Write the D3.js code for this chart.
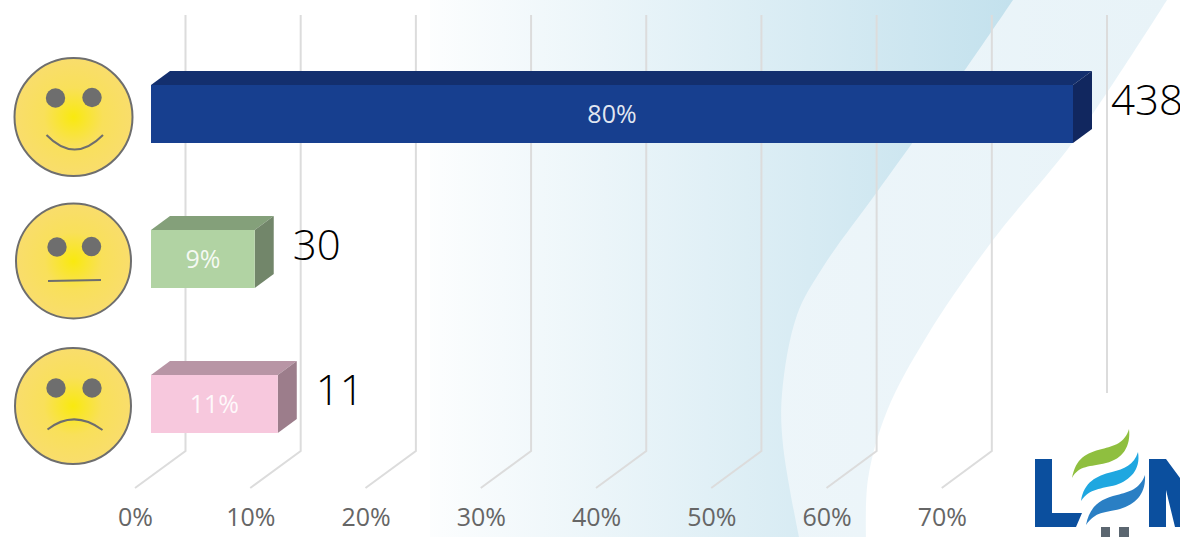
<!DOCTYPE html>
<html>
<head>
<meta charset="utf-8">
<script src="https://cdn.jsdelivr.net/npm/d3@7"></script>
<style>
  html, body { margin: 0; padding: 0; background: #fff; overflow: hidden; }
  text { font-family: "Open Sans", sans-serif; }
</style>
</head>
<body>
<div id="chart"></div>
<script>
var categories = ["happy", "neutral", "sad"];
var percents = [80, 9, 11];
var counts = [438, 30, 11];
var percentTicks = [0, 10, 20, 30, 40, 50, 60, 70, 80];
var labelledTicks = [0, 10, 20, 30, 40, 50, 60, 70];
var frontColors = ["#173f8f", "#b1d3a3", "#f7c8dd"];
var topColors = ["#132f6e", "#84a07a", "#b895a5"];
var sideColors = ["#11275f", "#72866a", "#9c7d8b"];

var width = 1180, height = 537;
var depthX = 19, depthY = 14;

var svg = d3.select("#chart").append("svg")
    .attr("width", width)
    .attr("height", height);

var defs = svg.append("defs");

var bgGrad = defs.append("linearGradient").attr("id", "bgInner");
bgGrad.append("stop").attr("offset", "0").attr("stop-color", "#ffffff");
bgGrad.append("stop").attr("offset", "1").attr("stop-color", "#c3e1ed");

var bandGrad = defs.append("linearGradient").attr("id", "bgBand");
bandGrad.append("stop").attr("offset", "0").attr("stop-color", "#f2f8fb");
bandGrad.append("stop").attr("offset", "1").attr("stop-color", "#e8f3f8");

var faceGrad = defs.append("radialGradient").attr("id", "faceFill");
faceGrad.append("stop").attr("offset", "0").attr("stop-color", "#f9e90f");
faceGrad.append("stop").attr("offset", "0.5").attr("stop-color", "#f9e05a");
faceGrad.append("stop").attr("offset", "1").attr("stop-color", "#f9dd6c");

// background swooshes
var outerEdge = [[1167, 0], [1073, 142], [993, 240], [927, 336], [887, 411], [868, 479], [866, 537]];
var innerEdge = [[1013, 0], [967, 67], [877, 192], [823, 267], [797, 315], [782, 394], [783, 445], [799, 537]];
var edge = d3.line().curve(d3.curveCatmullRom);

svg.append("path")
    .attr("d", edge(outerEdge) + "L400,537L400,0Z")
    .attr("fill", "url(#bgBand)");
svg.append("path")
    .attr("d", edge(innerEdge) + "L400,537L400,0Z")
    .attr("fill", "url(#bgInner)");
svg.append("rect")
    .attr("width", 430).attr("height", height)
    .attr("fill", "#fff");

// scales
var xBack = d3.scaleLinear().domain([0, 80]).range([185.5, 1107]);
var xFront = d3.scaleLinear().domain([0, 80]).range([135, 1057]);
var xBar = d3.scaleLinear().domain([0, 80]).range([151, 1073]);
var y = d3.scaleBand().domain(categories).range([85, 433]).paddingInner(0.6);

// walls and floor lines
var grid = svg.append("g").attr("fill", "none").attr("stroke", "#dcdcdc").attr("stroke-width", 2);
grid.selectAll("path")
    .data(percentTicks)
    .enter().append("path")
    .attr("d", function (d) {
        return "M" + xBack(d) + ",15V451L" + xFront(d) + ",488";
    });

var axis = d3.axisBottom(xFront)
    .tickValues(labelledTicks)
    .tickSize(0)
    .tickPadding(0)
    .tickFormat(function (d) { return d + "%"; });

var axisG = svg.append("g")
    .attr("transform", "translate(0,508)")
    .call(axis);
axisG.select(".domain").remove();
axisG.selectAll("text")
    .attr("font-family", "Open Sans")
    .attr("font-size", 25)
    .attr("fill", "#666");

// 3d bars
var bars = svg.selectAll(".bar")
    .data(categories)
    .enter().append("g")
    .attr("class", "bar");

bars.append("path")
    .attr("fill", function (d, i) { return topColors[i]; })
    .attr("d", function (d, i) {
        var x0 = xBar(0), x1 = xBar(percents[i]), t = y(d);
        return "M" + x0 + "," + t + "l" + depthX + "," + (-depthY) + "H" + (x1 + depthX) + "l" + (-depthX) + "," + depthY + "Z";
    });

bars.append("path")
    .attr("fill", function (d, i) { return sideColors[i]; })
    .attr("d", function (d, i) {
        var x1 = xBar(percents[i]), t = y(d);
        return "M" + x1 + "," + t + "l" + depthX + "," + (-depthY) + "v" + y.bandwidth() + "l" + (-depthX) + "," + depthY + "Z";
    });

bars.append("rect")
    .attr("x", xBar(0))
    .attr("y", function (d) { return y(d); })
    .attr("width", function (d, i) { return xBar(percents[i]) - xBar(0); })
    .attr("height", y.bandwidth())
    .attr("fill", function (d, i) { return frontColors[i]; });

bars.append("text")
    .attr("x", function (d, i) { return (xBar(0) + xBar(percents[i])) / 2; })
    .attr("y", function (d) { return y(d) + y.bandwidth() / 2 + 9; })
    .attr("text-anchor", "middle")
    .attr("font-size", 25)
    .attr("fill", "#fff")
    .attr("fill-opacity", 0.88)
    .text(function (d, i) { return percents[i] + "%"; });

bars.append("text")
    .attr("x", function (d, i) { return xBar(percents[i]) + depthX + 19; })
    .attr("y", function (d) { return y(d) + 30; })
    .attr("font-family", "Lato")
    .attr("font-weight", 300)
    .attr("font-size", 42)
    .attr("fill", "#000")
    .text(function (d, i) { return counts[i]; });

// faces
var faceSpots = [
    { cx: 73.5, cy: 117, r: 59, eyes: [[55.5, 98], [92, 97.5]], mouth: "M46.5,135Q74.5,164 103,135" },
    { cx: 73.5, cy: 261, r: 57.5, eyes: [[57, 247], [91.5, 246.5]], mouth: "M48,281L101,280" },
    { cx: 73, cy: 406, r: 58, eyes: [[56, 388], [92, 388]], mouth: "M47.5,429.5Q74,409 102.5,430" }
];
var faces = svg.selectAll(".face")
    .data(faceSpots)
    .enter().append("g")
    .attr("class", "face");
faces.append("circle")
    .attr("cx", function (d) { return d.cx; })
    .attr("cy", function (d) { return d.cy; })
    .attr("r", function (d) { return d.r; })
    .attr("fill", "url(#faceFill)")
    .attr("stroke", "#6e6e6e")
    .attr("stroke-width", 2);
faces.selectAll(".eye")
    .data(function (d) { return d.eyes; })
    .enter().append("circle")
    .attr("cx", function (d) { return d[0]; })
    .attr("cy", function (d) { return d[1]; })
    .attr("r", 9.7)
    .attr("fill", "#6e6e6e");
faces.append("path")
    .attr("d", function (d) { return d.mouth; })
    .attr("fill", "none")
    .attr("stroke", "#6e6e6e")
    .attr("stroke-width", 2);

// logo, sits on a white panel over the last wall line
var logo = svg.append("g");
logo.append("rect").attr("x", 1012).attr("y", 393).attr("width", 168).attr("height", 144).attr("fill", "#fff");
logo.append("path").attr("fill", "#0b4f9e").attr("d", "M1035,459H1052V513H1082L1076,527H1035Z");
logo.append("path").attr("fill", "#0b4f9e").attr("d", "M1149,459H1166L1180,478V527H1175L1166,490V527H1149Z");
logo.append("path").attr("fill", "#8fbf3f").attr("d", "M1072,478C1076,458 1086,453 1102,449C1114,446 1125,443 1129,429C1131,446 1123,459 1106,463C1090,467 1079,465 1072,478Z");
logo.append("path").attr("fill", "#1fa7e0").attr("d", "M1081,501C1084,482 1096,476 1112,472C1124,469 1134,465 1138,452C1141,470 1130,480 1116,485C1101,489 1090,488 1081,501Z");
logo.append("path").attr("fill", "#2a7fc4").attr("d", "M1086,525C1090,505 1101,499 1117,495C1129,492 1140,489 1145,475C1146,494 1136,504 1120,509C1104,513 1096,511 1086,525Z");
logo.append("rect").attr("x", 1101).attr("y", 527).attr("width", 9).attr("height", 10).attr("fill", "#5b6670");
logo.append("rect").attr("x", 1119).attr("y", 527).attr("width", 10).attr("height", 10).attr("fill", "#5b6670");
</script>
</body>
</html>
